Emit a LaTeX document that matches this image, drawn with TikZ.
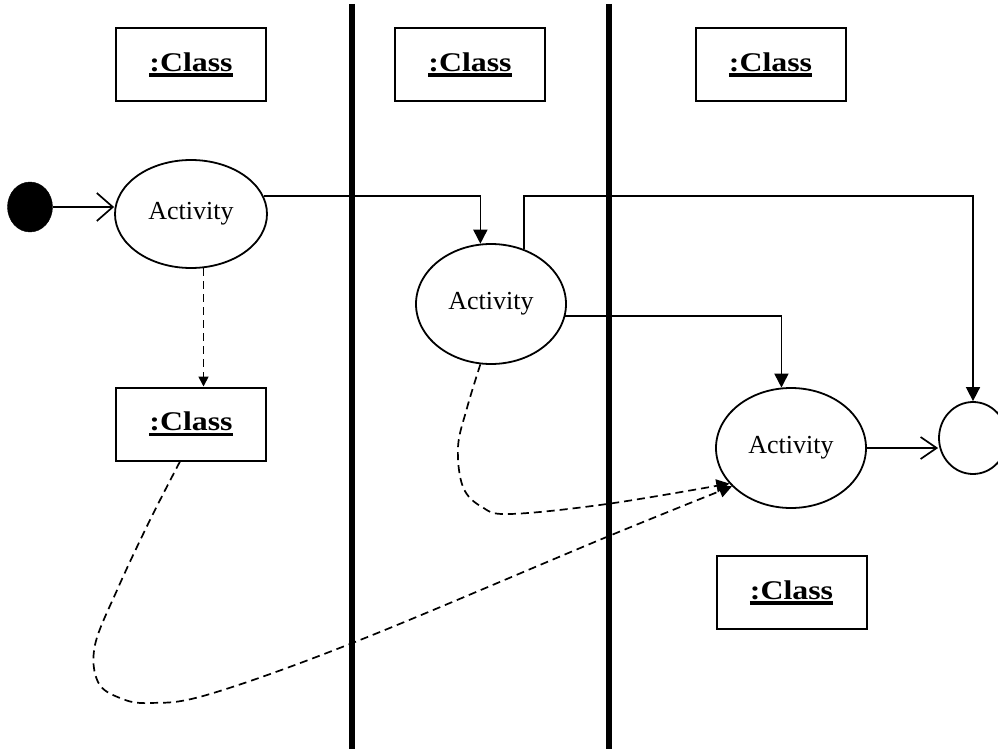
\documentclass[tikz,border=0pt]{standalone}
\usepackage{fontspec}
\setmainfont{Liberation Serif}
\newfontfamily\clsfont[FakeStretch=1.18]{Liberation Serif}
\usetikzlibrary{arrows.meta,shapes.geometric,calc}
\newcommand\clsul[1]{\setbox0=\hbox{#1}\rlap{\rule[-5.5pt]{\wd0}{3.5pt}}\box0}
\tikzset{
  cls/.style={draw, line width=2pt, minimum width=150pt, minimum height=73pt, inner sep=0pt,
    font=\clsfont\bfseries\fontsize{27}{30}\selectfont},
  act/.style={draw, ellipse, line width=1.8pt, inner sep=0pt, font=\fontsize{26}{30}\selectfont},
  flow/.style={line width=1.7pt, -{Triangle[length=14pt,width=14pt]}},
  openarr/.style={line width=1.7pt, -{Straight Barb[length=16pt,width=#1,line width=1.7pt]}},
  objflow/.style={line width=1.7pt, dash pattern=on 8pt off 5pt, -{Triangle[length=#1,width=#1]}},
  lane/.style={line width=6pt},
}
\begin{document}
\begin{tikzpicture}[x=1pt,y=-1pt]
\useasboundingbox (0,0) rectangle (998,749);
\clip (0,0) rectangle (998,749);
% swimlane separators
\draw[lane] (352,4) -- (352,749);
\draw[lane] (609,4) -- (609,749);
% objects
\node[cls] (c1) at (191,64.5) {\clsul{:Class}};
\node[cls] (c2) at (470,64.5) {\clsul{:Class}};
\node[cls] (c3) at (770.5,64.5) {\clsul{:Class}};
\node[cls] (c4) at (191,424) {\clsul{:Class}};
\node[cls] (c5) at (791.5,592.5) {\clsul{:Class}};
% states
\node[draw, ellipse, fill=black, minimum width=45pt, minimum height=50pt, inner sep=0pt] (init) at (30,207) {};
\node[act, minimum width=152pt, minimum height=108pt] (a1) at (191,214) {Activity};
\node[act, minimum width=150pt, minimum height=120pt] (a2) at (491,304) {Activity};
\node[act, minimum width=150pt, minimum height=120pt] (a3) at (791,448) {Activity};
\node[draw, ellipse, line width=1.8pt, minimum width=68pt, minimum height=72pt, inner sep=0pt] (fin) at (973,438) {};
% control flows
\coordinate (topline) at (0,196);
\draw[openarr=28pt] (init.east) -- (init.east -| a1.west);
\draw[flow] (a1.14) -| (a2.100);
\draw[flow] (a2.59) -- (a2.59 |- topline) -| (fin.north);
\draw[flow] (a2.-9) -| (a3.99);
\draw[openarr=22pt] (a3.east) -- (a3.east -| fin.west);
% object flows
\draw[objflow=10pt] (a1.-77) -- (a1.-77 |- c4.north);
\coordinate (s1) at ($(c4.south)+(-11,0)$);
\draw[objflow=13pt] plot[smooth, tension=0.6] coordinates {(s1) (150,520) (118,588) (95,645) (98,682) (120,698) (150,703) (210,694) (360,640) (609,536) (a3.213)};
\draw[objflow=13pt] plot[smooth, tension=0.6] coordinates {(a2.-100) (467,408) (458,447) (463,487) (482,507) (510,514) (607,504) (a3.210)};
\end{tikzpicture}
\end{document}
